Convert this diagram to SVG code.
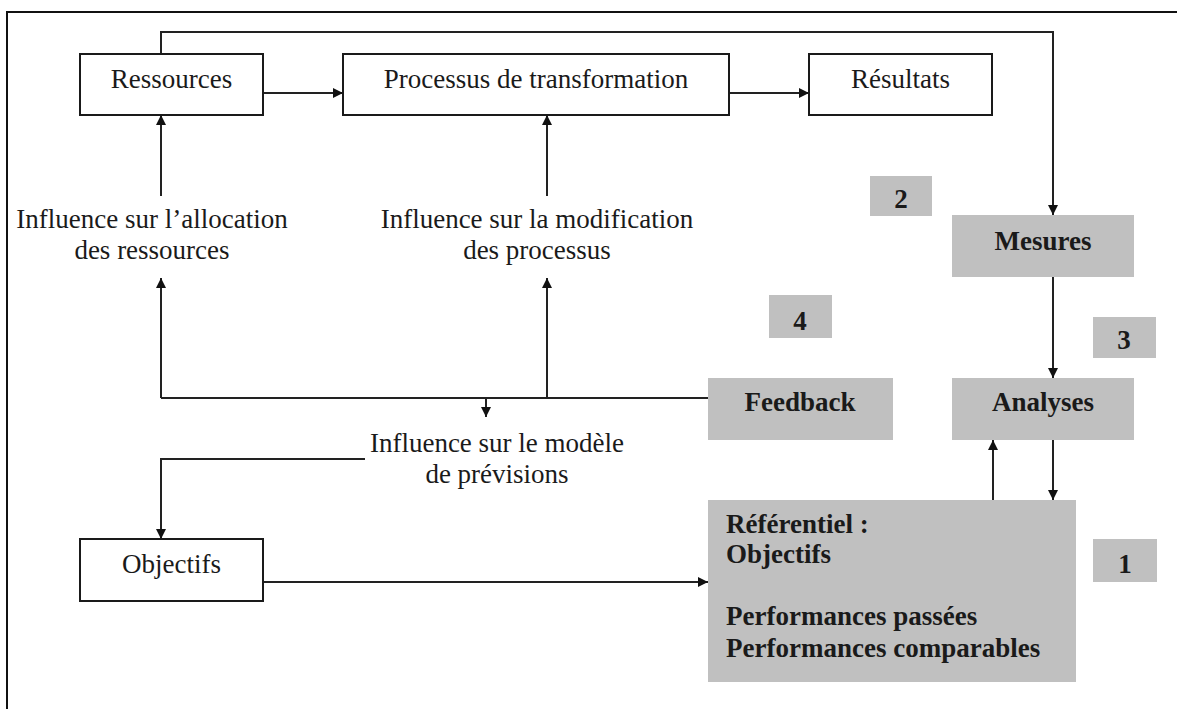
<svg xmlns="http://www.w3.org/2000/svg" width="1177" height="709" viewBox="0 0 1177 709">
  <style>
    .box { fill: #ffffff; stroke: #1a1a1a; stroke-width: 2; }
    .grey { fill: #c0c0c0; stroke: none; }
    .txt { font-family: "Liberation Serif", "Times New Roman", serif; font-size: 27px; fill: #1a1a1a; }
    .bold { font-weight: bold; }
    .mid { text-anchor: middle; }
    .link { fill: none; stroke: #222222; stroke-width: 2; }
  </style>
  <defs>
    <marker id="arrow" viewBox="0 0 10 10" refX="10" refY="5" markerWidth="10" markerHeight="10" markerUnits="userSpaceOnUse" orient="auto">
      <path d="M0,0 L10,5 L0,10 Z" fill="#111111"/>
    </marker>
  </defs>

  <rect width="1177" height="709" fill="#ffffff"/>

  <!-- page frame: left and top rules only -->
  <g id="frame">
    <path d="M7,709 L7,12 L1177,12" fill="none" stroke="#111111" stroke-width="2"/>
  </g>

  <!-- connectors -->
  <g id="connectors">
    <path class="link" d="M161,54 L161,32 L1053,32 L1053,215" marker-end="url(#arrow)"/>
    <path class="link" d="M263,93 L343,93" marker-end="url(#arrow)"/>
    <path class="link" d="M729,93 L809,93" marker-end="url(#arrow)"/>
    <path class="link" d="M1053,277 L1053,378" marker-end="url(#arrow)"/>
    <path class="link" d="M1053,440 L1053,500" marker-end="url(#arrow)"/>
    <path class="link" d="M993,500 L993,440" marker-end="url(#arrow)"/>
    <path class="link" d="M708,398 L161,398"/>
    <path class="link" d="M161,398 L161,278" marker-end="url(#arrow)"/>
    <path class="link" d="M547,398 L547,278" marker-end="url(#arrow)"/>
    <path class="link" d="M161,196 L161,115" marker-end="url(#arrow)"/>
    <path class="link" d="M547,196 L547,115" marker-end="url(#arrow)"/>
    <path class="link" d="M486,398 L486,417" marker-end="url(#arrow)"/>
    <path class="link" d="M365,459 L161,459 L161,539" marker-end="url(#arrow)"/>
    <path class="link" d="M263,582 L708,582" marker-end="url(#arrow)"/>
  </g>

  <!-- nodes -->
  <g id="ressources">
    <rect class="box" x="80" y="54" width="183" height="61"/>
    <text class="txt mid" x="171.5" y="88">Ressources</text>
  </g>
  <g id="processus">
    <rect class="box" x="343" y="54" width="386" height="61"/>
    <text class="txt mid" x="536" y="88">Processus de transformation</text>
  </g>
  <g id="resultats">
    <rect class="box" x="809" y="54" width="183" height="61"/>
    <text class="txt mid" x="900.5" y="88">Résultats</text>
  </g>
  <g id="objectifs">
    <rect class="box" x="80" y="539" width="183" height="62"/>
    <text class="txt mid" x="171.5" y="573">Objectifs</text>
  </g>

  <g id="label-allocation">
    <text class="txt mid" x="152" y="228">Influence sur l’allocation</text>
    <text class="txt mid" x="152" y="259">des ressources</text>
  </g>
  <g id="label-modification">
    <text class="txt mid" x="537" y="228">Influence sur la modification</text>
    <text class="txt mid" x="537" y="259">des processus</text>
  </g>
  <g id="label-modele">
    <text class="txt mid" x="497" y="452">Influence sur le modèle</text>
    <text class="txt mid" x="497" y="483">de prévisions</text>
  </g>

  <g id="mesures">
    <rect class="grey" x="952" y="215" width="182" height="62"/>
    <text class="txt bold mid" x="1043" y="250">Mesures</text>
  </g>
  <g id="analyses">
    <rect class="grey" x="952" y="378" width="182" height="62"/>
    <text class="txt bold mid" x="1043" y="411">Analyses</text>
  </g>
  <g id="feedback">
    <rect class="grey" x="708" y="378" width="185" height="62"/>
    <text class="txt bold mid" x="800" y="411">Feedback</text>
  </g>
  <g id="referentiel">
    <rect class="grey" x="708" y="500" width="368" height="182"/>
    <text class="txt bold" x="726" y="533">Référentiel :</text>
    <text class="txt bold" x="726" y="563">Objectifs</text>
    <text class="txt bold" x="726" y="625">Performances passées</text>
    <text class="txt bold" x="726" y="657">Performances comparables</text>
  </g>

  <g id="step-1">
    <rect class="grey" x="1093" y="539" width="64" height="43"/>
    <text class="txt bold mid" x="1125" y="573">1</text>
  </g>
  <g id="step-2">
    <rect class="grey" x="870" y="176" width="62" height="40"/>
    <text class="txt bold mid" x="901" y="208">2</text>
  </g>
  <g id="step-3">
    <rect class="grey" x="1093" y="317" width="63" height="41"/>
    <text class="txt bold mid" x="1124" y="349">3</text>
  </g>
  <g id="step-4">
    <rect class="grey" x="769" y="295" width="63" height="43"/>
    <text class="txt bold mid" x="800" y="330">4</text>
  </g>
</svg>
